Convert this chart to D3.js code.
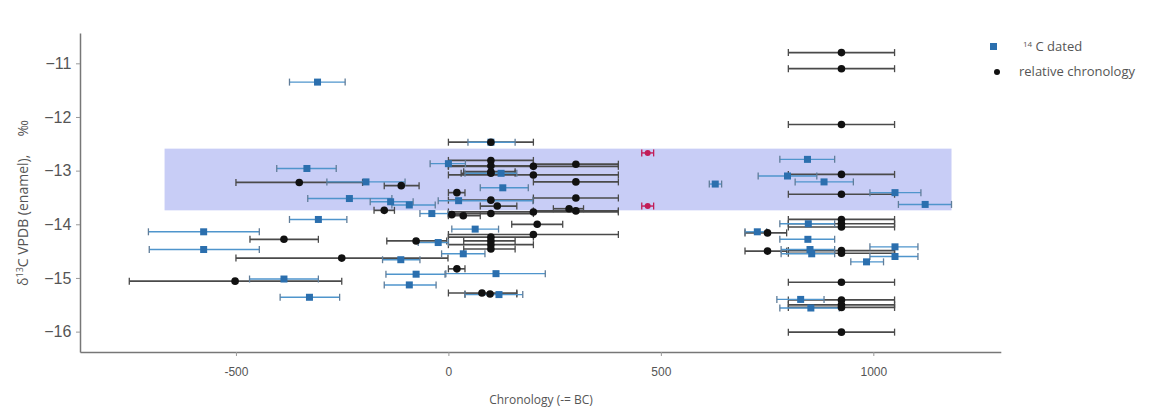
<!DOCTYPE html>
<html><head><meta charset="utf-8">
<script src="https://cdn.jsdelivr.net/npm/d3@7"></script>
<style>
body{margin:0;background:#fff;}
svg{display:block;font-family:"Open Sans",sans-serif;}
</style></head>
<body>
<svg id="chart" width="1164" height="412"></svg>
<script>
// ---- data ----
// 14C dated samples: [x, xmin, xmax, d13C]
const datedX =    [-308,-333,-194,-233,-136,-92,-306,-576,-576,-112,-24,-76,-387,-92,-327,0,124,128,24,-39,63,35,112,119,100,845,798,884,628,1051,1122,847,727,846,851,855,1051,1051,984,829,853];
const datedXmin = [-374,-404,-286,-331,-184,-133,-374,-706,-704,-155,-71,-147,-468,-151,-396,-43,39,75,-24,-67,8,-16,-6,39,46,780,729,816,614,992,1059,780,698,780,783,783,992,992,947,773,780];
const datedXmax = [-243,-264,-102,-133,-83,-31,-239,-445,-445,-67,0,-8,-306,-29,-256,40,161,188,199,0,118,86,228,175,157,909,867,953,643,1112,1184,909,749,909,909,909,1105,1105,1024,884,920];
const datedY =    [-11.35,-12.96,-13.21,-13.52,-13.58,-13.64,-13.91,-14.14,-14.47,-14.66,-14.34,-14.93,-15.02,-15.13,-15.36,-12.87,-13.05,-13.32,-13.56,-13.80,-14.09,-14.55,-14.92,-15.31,-12.47,-12.79,-13.10,-13.21,-13.25,-13.41,-13.63,-13.99,-14.14,-14.28,-14.47,-14.55,-14.42,-14.60,-14.70,-15.40,-15.56];

// relative chronology samples: [x, xmin, xmax, d13C]
const relX =    [925,925,925,925,925,925,925,925,925,925,925,925,925,925,925,751,751,
                 100,100,100,100,100,100,100,100,100,100,100,
                 200,200,200,200, 300,300,300,300, 284, 20,115,209,20,79,98,8,35,
                 -351,-111,-151,-387,-251,-502,-76];
const relXmin = [800,800,800,800,800,800,800,800,800,800,800,800,800,800,800,698,698,
                 0,0,0,36,30,0,0,0,36,0,36,
                 0,0,0,0, 200,200,200,200, 247, 0,75,149,0,0,39,0,0,
                 -500,-151,-175,-467,-500,-751,-145];
const relXmax = [1050,1050,1050,1050,1050,1050,1050,1050,1050,1050,1050,1050,1050,1050,1050,796,796,
                 200,200,200,157,157,200,200,200,157,200,157,
                 400,400,400,400, 400,400,400,400, 318, 39,161,269,39,161,161,40,75,
                 -202,-69,-127,-306,-1,-251,-4];
const relY =    [-10.80,-11.10,-12.14,-13.07,-13.44,-13.91,-13.99,-14.05,-14.49,-14.54,-15.08,-15.41,-15.50,-15.55,-16.01,-14.16,-14.50,
                 -12.47,-12.81,-12.91,-13.02,-13.05,-13.55,-13.80,-14.24,-14.31,-14.38,-14.46,
                 -12.92,-13.08,-13.77,-14.19, -12.88,-13.21,-13.51,-13.75, -13.71, -13.41,-13.66,-14.00,-14.83,-15.28,-15.30,-13.82,-13.84,
                 -13.22,-13.28,-13.74,-14.28,-14.63,-15.06,-14.31];

// band (reference range) and its bound markers
const bandX = [-668, 1184];
const bandY = [-12.59, -13.74];
const boundX = [469, 469], boundXmin = [455, 455], boundXmax = [483, 483], boundY = [-12.67, -13.66];

const xTicks = [-500, 0, 500, 1000];
const yTicks = [-11, -12, -13, -14, -15, -16];
const legendLabels = ["14 C dated", "relative chronology"];

// ---- drawing ----
const svg = d3.select("#chart");
const x = d3.scaleLinear().domain([-867, 1300]).range([80, 1000.8]);
const y = d3.scaleLinear().domain([-16.38, -10.435]).range([352, 33]);

const BLUE = "#2b6fae", BLUEBAR = "#4f95cc", BLACK = "#111", GREYBAR = "#4a4a4a", RED = "#c21d58";

svg.append("rect")
  .attr("x", x(bandX[0])).attr("width", x(bandX[1]) - x(bandX[0]))
  .attr("y", y(bandY[0])).attr("height", y(bandY[1]) - y(bandY[0]))
  .attr("fill", "#c8cdf6");

function errbars(g, xs, xmin, xmax, ys, lineCol, capCol, w) {
  const idx = d3.range(xs.length);
  g.selectAll(null).data(idx).join("line")
    .attr("x1", i => x(xmin[i])).attr("x2", i => x(xmax[i]))
    .attr("y1", i => y(ys[i])).attr("y2", i => y(ys[i]))
    .attr("stroke", lineCol).attr("stroke-width", w);
  ["min", "max"].forEach(k => {
    const arr = k === "min" ? xmin : xmax;
    g.selectAll(null).data(idx).join("line")
      .attr("x1", i => x(arr[i])).attr("x2", i => x(arr[i]))
      .attr("y1", i => y(ys[i]) - 3.5).attr("y2", i => y(ys[i]) + 3.5)
      .attr("stroke", capCol).attr("stroke-width", 1.3);
  });
}

const gBars = svg.append("g");
errbars(gBars.append("g"), relX, relXmin, relXmax, relY, GREYBAR, GREYBAR, 1.7);
errbars(gBars.append("g"), datedX, datedXmin, datedXmax, datedY, BLUEBAR, "#607d99", 1.4);
errbars(gBars.append("g"), boundX, boundXmin, boundXmax, boundY, RED, RED, 1.4);

svg.append("g").selectAll("rect").data(d3.range(datedX.length)).join("rect")
  .attr("x", i => x(datedX[i]) - 3.5).attr("y", i => y(datedY[i]) - 3.5)
  .attr("width", 7).attr("height", 7).attr("fill", BLUE);

svg.append("g").selectAll("circle").data(d3.range(relX.length)).join("circle")
  .attr("cx", i => x(relX[i])).attr("cy", i => y(relY[i])).attr("r", 3.8).attr("fill", BLACK);

svg.append("g").selectAll("circle").data(d3.range(boundX.length)).join("circle")
  .attr("cx", i => x(boundX[i])).attr("cy", i => y(boundY[i])).attr("r", 3).attr("fill", RED);

// axes
const xAxis = svg.append("g").attr("transform", "translate(0,352)")
  .call(d3.axisBottom(x).tickValues(xTicks).tickSize(4).tickSizeOuter(0).tickFormat(d3.format("d")));
const yAxis = svg.append("g").attr("transform", "translate(80,0)")
  .call(d3.axisLeft(y).tickValues(yTicks).tickSize(4).tickSizeOuter(0).tickFormat(d => "\u2212" + Math.abs(d)));
[xAxis, yAxis].forEach(a => {
  a.select(".domain").attr("stroke", "#777").attr("stroke-width", 1.5);
  a.selectAll(".tick line").attr("stroke", "#999");
});
xAxis.selectAll("text").attr("font-size", 12).attr("fill", "#555").attr("dy", "1.4em")
  .text(d => d < 0 ? "-" + Math.abs(d) : d);
yAxis.selectAll("text").attr("font-size", 16).attr("fill", "#555").attr("dx", "-0.1em");

svg.append("text").attr("x", 541).attr("y", 404).attr("text-anchor", "middle")
  .attr("font-size", 12).attr("fill", "#555").text("Chronology (-= BC)");

const yt = svg.append("text").attr("transform", "translate(28,203) rotate(-90)")
  .attr("text-anchor", "middle").attr("font-size", 14).attr("fill", "#555");
yt.append("tspan").text("\u03b4");
yt.append("tspan").attr("font-size", 9).attr("dy", -5).text("13");
yt.append("tspan").attr("dy", 5).text("C VPDB (enamel),\u00a0\u00a0\u00a0\u00a0\u00a0\u2030");

// legend
const lg = svg.append("g");
lg.append("rect").attr("x", 990).attr("y", 43).attr("width", 7).attr("height", 7).attr("fill", BLUE);
const l1 = lg.append("text").attr("x", 1023).attr("y", 51).attr("font-size", 13).attr("fill", "#555");
l1.append("tspan").attr("font-size", 8).attr("dy", -4).text(legendLabels[0].split(" ")[0]);
l1.append("tspan").attr("dy", 4).text(" " + legendLabels[0].split(" ").slice(1).join(" "));
lg.append("circle").attr("cx", 997).attr("cy", 72).attr("r", 3).attr("fill", BLACK);
lg.append("text").attr("x", 1019).attr("y", 76).attr("font-size", 13).attr("fill", "#555").text(legendLabels[1]);
</script>
</body></html>
